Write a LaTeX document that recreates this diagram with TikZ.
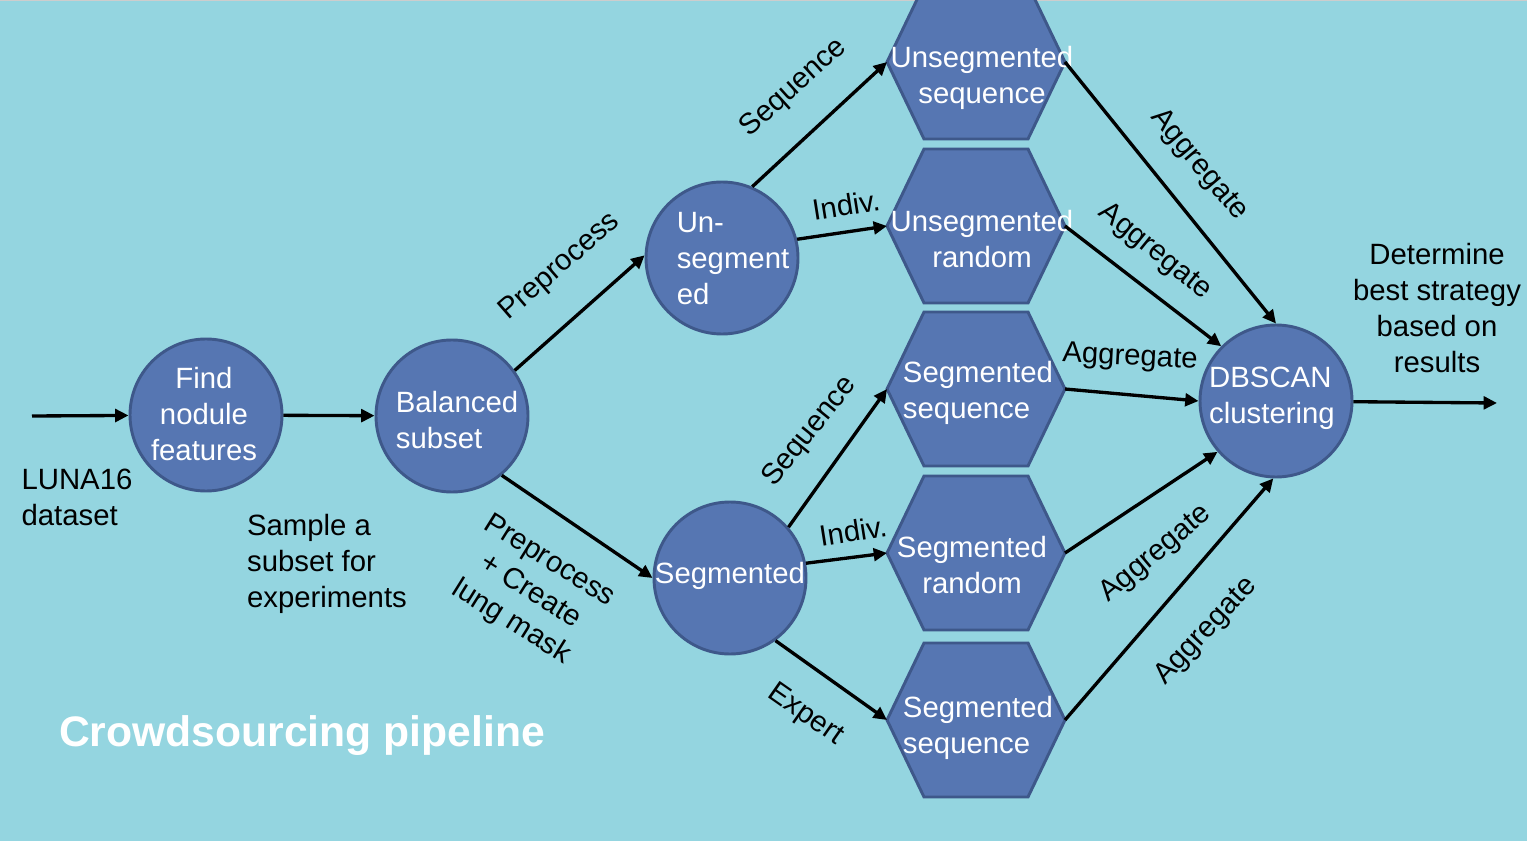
\documentclass[tikz,border=0pt]{standalone}
\usepackage{fontspec}
\setmainfont{Liberation Sans}
\usetikzlibrary{arrows.meta,backgrounds}
\definecolor{bgc}{RGB}{148,213,224}
\definecolor{nodefill}{RGB}{86,118,178}
\definecolor{nodeline}{RGB}{62,88,138}
\definecolor{topline}{RGB}{205,205,205}
\begin{document}
\begin{tikzpicture}[x=0.75pt,y=-0.75pt,
  txt/.style={font=\fontsize{22pt}{27pt}\selectfont, inner sep=0pt, align=center},
  wtxt/.style={txt, text=white},
  circ/.style={circle, fill=nodefill, draw=nodeline, line width=2.2pt, minimum size=114pt, inner sep=0pt},
  hexbox/.style={rectangle, minimum width=133.5pt, minimum height=115.5pt, inner sep=0pt, outer sep=0pt},
  hexshape/.style={fill=nodefill, draw=nodeline, line width=2.2pt, line join=miter},
  arr/.style={-{Triangle[length=10pt,width=9.5pt]}, line width=2.5pt, black},
]
\useasboundingbox (0,0) rectangle (1527,841);

% circles
\node[circ] (c1) at (206,415) {};
\node[circ] (c2) at (452,416) {};
\node[circ] (c3) at (722,258) {};
\node[circ] (c4) at (730,578) {};
\node[circ] (c5) at (1276,401) {};

% hexagon frames
\node[hexbox] (h1) at (976,62) {};
\node[hexbox] (h2) at (976,226) {};
\node[hexbox] (h3) at (976,389) {};
\node[hexbox] (h4) at (976,553) {};
\node[hexbox] (h5) at (976,720) {};

% texts in shapes
\node[wtxt] (t1) at (204,414) {Find\\nodule\\features};
\node[wtxt, align=left] (t2) at (457,420) {Balanced\\subset};
\node[wtxt, align=left] (t3) at (733,259) {Un-\\segment\\ed};
\node[wtxt] (t4) at (730,576) {Segmented};
\node[wtxt, align=left] (t5) at (1272,398) {DBSCAN\\clustering};
\node[wtxt] (ht1) at (982,78) {Unsegmented\\sequence};
\node[wtxt] (ht2) at (982,239) {Unsegmented\\random};
\node[wtxt, align=left] (ht3) at (978,393) {Segmented\\sequence};
\node[wtxt] (ht4) at (972,565) {Segmented\\random};
\node[wtxt, align=left] (ht5) at (978,728) {Segmented\\sequence};

% free ends
\coordinate (in) at (32,416);
\coordinate (out) at (1497,403);

% connectors
\draw[arr] (in) -- (c1);
\draw[arr] (c1) -- (c2);
\draw[arr] (c2.36) -- (c3.178);
\draw[arr] (c2.-50) -- (c4.west);
\draw[arr] (c3.67) -- (h1.west);
\draw[arr] (c3.14) -- (h2.west);
\draw[arr] (c4.41) -- (h3.west);
\draw[arr] (c4.11) -- (h4.west);
\draw[arr] (c4.-54) -- (h5.west);
\draw[arr] (h1.east) -- (c5.north);
\draw[arr] (h2.east) -- (c5.135);
\draw[arr] (h3.east) -- (c5.west);
\draw[arr] (h4.east) -- (c5.221);
\draw[arr] (h5.east) -- (c5.268);
\draw[arr] (c5) -- (out);

% labels
\node[txt, align=left] (luna) at (77,497) {LUNA16\\dataset};
\node[txt, align=left] (sample) at (327,564) {Sample a\\subset for\\experiments};
\node[txt, rotate=41] (lp1) at (560,267) {Preprocess};
\node[txt, rotate=-32] (lp2) at (530,592) {Preprocess\\+ Create\\lung mask};
\node[txt, rotate=42] (ls1) at (794,88) {Sequence};
\node[txt, rotate=9] (li1) at (846,205) {Indiv.};
\node[txt, rotate=51] (ls2) at (810,432) {Sequence};
\node[txt, rotate=9] (li2) at (853,531) {Indiv.};
\node[txt, rotate=-35] (le) at (805,715) {Expert};
\node[txt, rotate=-50] (la1) at (1199,165) {Aggregate};
\node[txt, rotate=-39] (la2) at (1155,252) {Aggregate};
\node[txt, rotate=-3] (la3) at (1130,358) {Aggregate};
\node[txt, rotate=40] (la4) at (1156,554) {Aggregate};
\node[txt, rotate=47] (la5) at (1206,631) {Aggregate};
\node[txt] (det) at (1437,308) {Determine\\best strategy\\based on\\results};
\node[font=\bfseries\fontsize{32pt}{38pt}\selectfont, text=white, inner sep=0pt] (title) at (302,736) {Crowdsourcing pipeline};

\begin{scope}[on background layer]
  \fill[bgc] (0,0) rectangle (1527,841);
  \fill[topline] (0,0) rectangle (1527,1.5);
  \foreach \h in {h1,h2,h3,h4,h5}{
    \filldraw[hexshape] (\h.west) -- ([xshift=27.75pt]\h.north west) -- ([xshift=-27.75pt]\h.north east) -- (\h.east) -- ([xshift=-27.75pt]\h.south east) -- ([xshift=27.75pt]\h.south west) -- cycle;
  }
\end{scope}
\end{tikzpicture}
\end{document}
